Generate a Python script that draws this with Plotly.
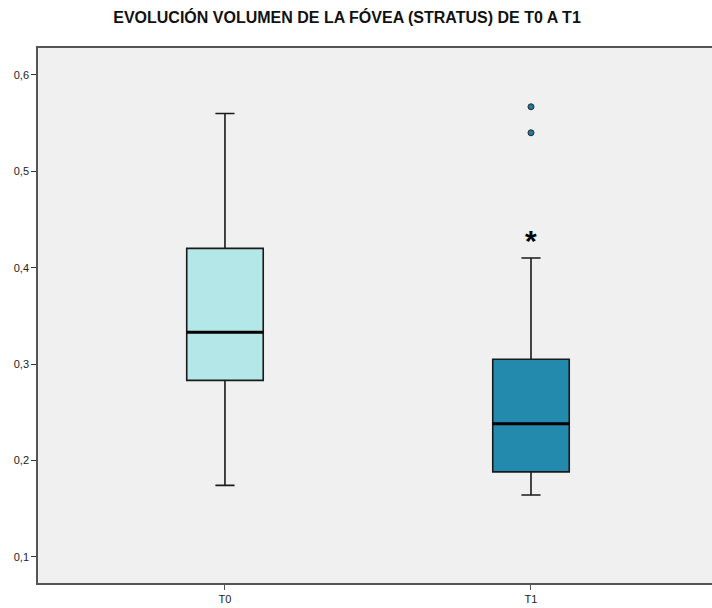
"""
Boxplot: evolución del volumen de la fóvea (Stratus) de T0 a T1
"""
import plotly.graph_objects as go

# Datos
tiempos = ['T0', 'T1']
q1 = [0.283, 0.188]
mediana = [0.333, 0.238]
q3 = [0.420, 0.305]
bigote_inf = [0.174, 0.164]
bigote_sup = [0.560, 0.410]
colores = ['#b4e7e8', '#238aad']

# Valores atípicos de T1
atipicos_x = ['T1', 'T1']
atipicos_y = [0.567, 0.540]
extremos_x = ['T1']
extremos_y = [0.435]

fig = go.Figure()

for i, t in enumerate(tiempos):
    fig.add_trace(go.Box(
        x=[t],
        q1=[q1[i]], median=[mediana[i]], q3=[q3[i]],
        lowerfence=[bigote_inf[i]], upperfence=[bigote_sup[i]],
        fillcolor=colores[i],
        line=dict(color='#1a1a1a', width=1.6),
        width=0.25,
        whiskerwidth=0.25,
        hoverinfo='skip',
    ))
    # mediana gruesa (caja degenerada)
    fig.add_trace(go.Box(
        x=[t],
        q1=[mediana[i]], median=[mediana[i]], q3=[mediana[i]],
        lowerfence=[mediana[i]], upperfence=[mediana[i]],
        fillcolor='rgba(0,0,0,0)',
        line=dict(color='black', width=3),
        width=0.25,
        whiskerwidth=0,
        hoverinfo='skip',
    ))

fig.add_trace(go.Scatter(
    x=atipicos_x, y=atipicos_y,
    mode='markers',
    marker=dict(size=6, color='#1f7a99', line=dict(color='#2a2a2a', width=1)),
    hoverinfo='skip',
))

for x, y in zip(extremos_x, extremos_y):
    fig.add_annotation(
        x=x, y=y, text='<b>*</b>', showarrow=False,
        font=dict(family='Liberation Sans', size=30, color='black'),
        yshift=-7,
    )

# el área del gráfico sigue más allá del borde derecho, como en el original
ancho = 780
fig.update_layout(
    width=ancho, height=608,
    margin=dict(l=38, r=0, t=48, b=25),
    paper_bgcolor='white',
    plot_bgcolor='#f0f0f0',
    showlegend=False,
    separators=',.',
    font=dict(family='Liberation Sans', size=11, color='#222222'),
    title=dict(
        text='<b>EVOLUCIÓN VOLUMEN DE LA FÓVEA (STRATUS) DE T0 A T1</b>',
        x=347 / ancho, xanchor='center', y=0.972, yanchor='middle',
        font=dict(family='Liberation Sans', size=16, color='#111111'),
    ),
)

fig.update_xaxes(
    type='category',
    range=[-0.611, 1 + (ancho - 531) / 306],
    showline=True, linecolor='#555555', linewidth=1.6, mirror=True,
    ticks='outside', ticklen=5, tickcolor='#555555',
    tickfont=dict(family='Liberation Sans', size=11, color='#222222'),
    showgrid=False, zeroline=False,
)
fig.update_yaxes(
    range=[0.0727, 0.628],
    tickvals=[0.1, 0.2, 0.3, 0.4, 0.5, 0.6],
    tickformat='.1f',
    showline=True, linecolor='#555555', linewidth=1.6, mirror=False,
    ticks='outside', ticklen=5, tickcolor='#333333',
    tickfont=dict(family='Liberation Sans', size=11, color='#222222'),
    showgrid=False, zeroline=False,
)

fig.write_html(
    "out.html",
    config={'displayModeBar': False},
    post_script="document.body.style.margin='0';document.body.style.overflow='hidden';",
)
